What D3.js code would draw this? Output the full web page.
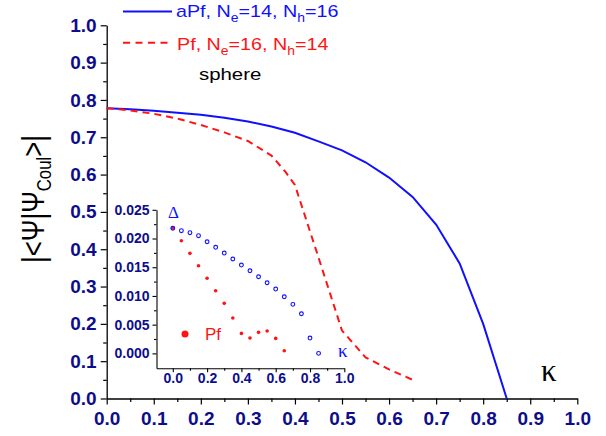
<!DOCTYPE html>
<html><head><meta charset="utf-8">
<script src="https://cdn.jsdelivr.net/npm/d3@7"></script>
<style>body{margin:0;background:#fff}svg{display:block}</style>
</head><body>
<svg id="c" width="606" height="436"></svg>
<script>
// ---- data ----
const aPfKappa = [0,0.05,0.1,0.15,0.2,0.25,0.3,0.35,0.4,0.45,0.5,0.55,0.6,0.65,0.7,0.75,0.8,0.85];
const aPfOverlap = [0.778,0.775,0.771,0.766,0.760,0.752,0.742,0.729,0.712,0.689,0.665,0.633,0.592,0.540,0.466,0.362,0.200,0.0];
const pfKappa = [0,0.05,0.1,0.15,0.2,0.25,0.3,0.35,0.38,0.4,0.45,0.5,0.55,0.6,0.65];
const pfOverlap = [0.778,0.772,0.763,0.750,0.733,0.713,0.690,0.651,0.607,0.572,0.378,0.182,0.110,0.078,0.050];
const gapKappa = [0,0.05,0.1,0.15,0.2,0.25,0.3,0.35,0.4,0.45,0.5,0.55,0.6,0.65,0.7,0.75,0.8,0.85];
const aPfGap = [0.02178,0.02136,0.02101,0.02049,0.01944,0.01847,0.01747,0.01643,0.01538,0.01439,0.01334,0.0123,0.0112,0.00986,0.00854,0.0069,0.00267,0.0];
const pfGapKappa = [0,0.05,0.1,0.15,0.2,0.25,0.3,0.35,0.4,0.45,0.5,0.55,0.6,0.65];
const pfGap = [0.02178,0.01962,0.01742,0.01526,0.01307,0.01091,0.00871,0.00615,0.00348,0.00267,0.00366,0.00389,0.00261,0.00045];
const mainTicks = [0,0.1,0.2,0.3,0.4,0.5,0.6,0.7,0.8,0.9,1.0];
const mainMinor = [0.05,0.15,0.25,0.35,0.45,0.55,0.65,0.75,0.85,0.95];
const insetXTicks = [0,0.2,0.4,0.6,0.8,1.0];
const insetXMinor = [0.1,0.3,0.5,0.7,0.9];
const insetYTicks = [0,0.005,0.01,0.015,0.02,0.025];
const insetYMinor = [0.0025,0.0075,0.0125,0.0175,0.0225];

const svg = d3.select("#c");
const NAVY = "#0d0d8c", BLUE = "#1010ff", RED = "#ff1414";
const SANS = "'Liberation Sans', Arial, Helvetica, sans-serif";
const SERIF = "'Liberation Serif', 'Times New Roman', serif";

// ---- main scales ----
const x = d3.scaleLinear().domain([0,1]).range([106.7,577.3]);
const y = d3.scaleLinear().domain([0,1]).range([398.5,25.3]);

function styleAxis(g, size){
  g.selectAll(".domain").attr("stroke","#000").attr("stroke-width",1.3);
  g.selectAll(".tick line").attr("stroke","#000").attr("stroke-width",1.2);
  g.selectAll("text").attr("fill",NAVY).attr("font-family",SANS).attr("font-weight","bold").attr("font-size",size);
}

// main x axis
const gx = svg.append("g").attr("transform",`translate(0,${y(0)})`)
  .call(d3.axisBottom(x).tickValues(mainTicks).tickSize(6).tickSizeOuter(0).tickPadding(6).tickFormat(d3.format(".1f")));
styleAxis(gx,"19px");
gx.selectAll("text").attr("dy","0").attr("y",26.5);
svg.append("g").attr("transform",`translate(0,${y(0)})`)
  .call(d3.axisBottom(x).tickValues(mainMinor).tickSize(3.5).tickSizeOuter(0).tickFormat(""))
  .call(g=>{g.select(".domain").remove();g.selectAll("line").attr("stroke","#000").attr("stroke-width",1.2);});

// main y axis
const gy = svg.append("g").attr("transform",`translate(${x(0)},0)`)
  .call(d3.axisLeft(y).tickValues(mainTicks).tickSize(6).tickSizeOuter(0).tickPadding(4).tickFormat(d3.format(".1f")));
styleAxis(gy,"19px");
svg.append("g").attr("transform",`translate(${x(0)},0)`)
  .call(d3.axisLeft(y).tickValues(mainMinor).tickSize(3.5).tickSizeOuter(0).tickFormat(""))
  .call(g=>{g.select(".domain").remove();g.selectAll("line").attr("stroke","#000").attr("stroke-width",1.2);});

// ---- main lines ----
const line = d3.line().x(d=>x(d[0])).y(d=>y(d[1]));
svg.append("path").datum(aPfKappa.map((k,i)=>[k,aPfOverlap[i]]))
  .attr("d",line).attr("fill","none").attr("stroke",BLUE).attr("stroke-width",2);
svg.append("path").datum(pfKappa.map((k,i)=>[k,pfOverlap[i]]))
  .attr("d",line).attr("fill","none").attr("stroke",RED).attr("stroke-width",2).attr("stroke-dasharray","7,5");

// ---- legend ----
svg.append("line").attr("x1",123).attr("x2",172).attr("y1",11.5).attr("y2",11.5).attr("stroke",BLUE).attr("stroke-width",2);
svg.append("line").attr("x1",123).attr("x2",171).attr("y1",42.7).attr("y2",42.7).attr("stroke",RED).attr("stroke-width",2).attr("stroke-dasharray","7,5.5");

function legendText(xp,yp,color,parts){
  const t = svg.append("text").attr("transform",`translate(${xp},${yp}) scale(1.16,1)`)
    .attr("font-family",SANS).attr("font-size","17px").attr("fill",color);
  parts.forEach(p=>{
    if(p.sub){ t.append("tspan").attr("font-size","12px").attr("dy",5).text(p.s);}
    else { t.append("tspan").attr("dy",p.after? -5:0).text(p.s);}
  });
}
legendText(176,17.3,BLUE,[{s:"aPf, N"},{s:"e",sub:true},{s:"=14, N",after:true},{s:"h",sub:true},{s:"=16",after:true}]);
legendText(177,50,RED,[{s:"Pf, N"},{s:"e",sub:true},{s:"=16, N",after:true},{s:"h",sub:true},{s:"=14",after:true}]);
svg.append("text").attr("transform","translate(199,79.5) scale(1.2,1)").attr("font-family",SANS).attr("font-size","17px").attr("fill","#000").text("sphere");

// ---- y label ----
const yl = svg.append("text").attr("transform","translate(44,199) rotate(-90)")
  .attr("text-anchor","middle").attr("font-family",SANS).attr("font-size","31px").attr("fill","#000")
  .attr("textLength",128).attr("lengthAdjust","spacingAndGlyphs");
yl.append("tspan").text("|<Ψ|Ψ");
yl.append("tspan").attr("font-size","20px").attr("dy",7).text("Coul");
yl.append("tspan").attr("dy",-7).text(">|");

// main kappa label
svg.append("text").attr("x",541).attr("y",381).attr("font-family",SERIF).attr("font-size","31px").attr("fill","#000").text("κ");

// ---- inset ----
const xi = d3.scaleLinear().domain([-0.095,1]).range([156.5,344.3]);
const yi = d3.scaleLinear().domain([-0.0026,0.025]).range([368.3,209.8]);

const gxi = svg.append("g").attr("transform",`translate(0,${yi.range()[0]})`)
  .call(d3.axisBottom(xi).tickValues(insetXTicks).tickSize(4).tickSizeOuter(0).tickFormat(d3.format(".1f")));
styleAxis(gxi,"14px");
gxi.selectAll("text").attr("dy","0").attr("y",15);
svg.append("g").attr("transform",`translate(0,${yi.range()[0]})`)
  .call(d3.axisBottom(xi).tickValues(insetXMinor).tickSize(2.5).tickSizeOuter(0).tickFormat(""))
  .call(g=>{g.select(".domain").remove();g.selectAll("line").attr("stroke","#000").attr("stroke-width",1.1);});

const gyi = svg.append("g").attr("transform",`translate(${xi.range()[0]},0)`)
  .call(d3.axisLeft(yi).tickValues(insetYTicks).tickSize(4).tickSizeOuter(0).tickPadding(3).tickFormat(d3.format(".3f")));
styleAxis(gyi,"14px");
svg.append("g").attr("transform",`translate(${xi.range()[0]},0)`)
  .call(d3.axisLeft(yi).tickValues(insetYMinor).tickSize(2.5).tickSizeOuter(0).tickFormat(""))
  .call(g=>{g.select(".domain").remove();g.selectAll("line").attr("stroke","#000").attr("stroke-width",1.1);});
[gxi,gyi].forEach(g=>{g.select(".domain").attr("stroke-width",1.1);g.selectAll(".tick line").attr("stroke-width",1.1);});

// inset points
svg.append("g").selectAll("circle").data(pfGapKappa.map((k,i)=>[k,pfGap[i]])).join("circle")
  .attr("cx",d=>xi(d[0])).attr("cy",d=>yi(d[1])).attr("r",1.8).attr("fill",RED);
svg.append("g").selectAll("circle").data(gapKappa.map((k,i)=>[k,aPfGap[i]])).join("circle")
  .attr("cx",d=>xi(d[0])).attr("cy",d=>yi(d[1])).attr("r",1.9).attr("fill","none").attr("stroke",BLUE).attr("stroke-width",1.1);

// inset legend and labels
svg.append("circle").attr("cx",185).attr("cy",334).attr("r",3.5).attr("fill",RED);
svg.append("text").attr("x",205).attr("y",340).attr("font-family",SANS).attr("font-size","17px").attr("fill",RED).text("Pf");
svg.append("text").attr("x",168).attr("y",217.7).attr("font-family",SERIF).attr("font-size","17px").attr("fill",BLUE).text("Δ");
svg.append("text").attr("x",338).attr("y",356.7).attr("font-family",SERIF).attr("font-size","19px").attr("fill",BLUE).text("κ");
</script>
</body></html>
